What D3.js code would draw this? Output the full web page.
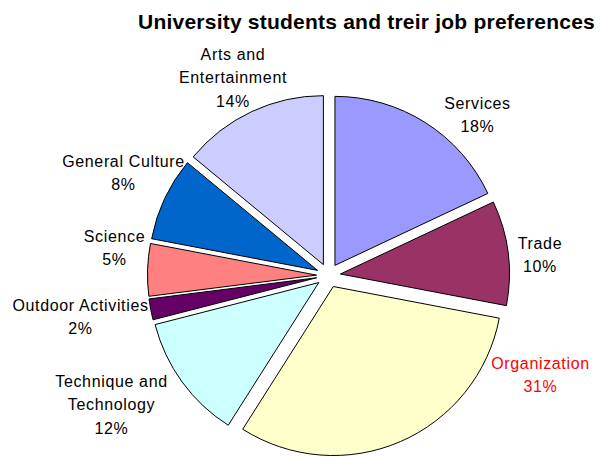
<!DOCTYPE html>
<html>
<head>
<meta charset="utf-8">
<script src="https://cdn.jsdelivr.net/npm/d3@7"></script>
<style>
  html, body { margin: 0; padding: 0; background: #fff; }
  svg { display: block; font-family: "Liberation Sans", Arial, sans-serif; }
</style>
</head>
<body>
<svg id="chart" width="601" height="457"></svg>
<script>
// Job preferences of university students, in percent
const categories = ["Services", "Trade", "Organization", "Technique and Technology",
                    "Outdoor Activities", "Science", "General Culture", "Arts and Entertainment"];
const shares = [18, 10, 31, 12, 2, 5, 8, 14];
const sliceColors = ["#9999FF", "#993366", "#FFFFCC", "#CCFFFF",
                     "#660066", "#FF8080", "#0066CC", "#CCCCFF"];
const labelColors = ["#000", "#000", "#FF0000", "#000", "#000", "#000", "#000", "#000"];

// Label anchors (centre x, first baseline) relative to the pie centre
const labelOffsets = [
  [149, -167], [211.5, -26.5], [212, 93.5], [-217, 111.5],
  [-248, 35.5], [-214, -33.5], [-205, -108.5], [-95.5, -215.5]
];

const width = 601, height = 457;
const cx = 328.5, cy = 275.5;
const radius = 169;
const explode = 12;
const lineHeight = 23.3;

const svg = d3.select("#chart");

svg.append("text")
  .attr("x", 366.5)
  .attr("y", 29)
  .attr("text-anchor", "middle")
  .style("font-weight", "bold")
  .style("font-size", "21px")
  .style("letter-spacing", "0.22px")
  .attr("fill", "#000")
  .text("University students and treir job preferences");

const data = categories.map((name, i) => ({ name, value: shares[i], i }));

const pie = d3.pie().sort(null).value(d => d.value).startAngle(0).endAngle(2 * Math.PI);
const arc = d3.arc().innerRadius(0).outerRadius(radius);

const g = svg.append("g").attr("transform", `translate(${cx},${cy})`);

g.selectAll("path.slice")
  .data(pie(data))
  .join("path")
  .attr("class", "slice")
  .attr("d", arc)
  .attr("transform", d => {
    const a = (d.startAngle + d.endAngle) / 2;
    return `translate(${explode * Math.sin(a)},${-explode * Math.cos(a)})`;
  })
  .attr("fill", d => sliceColors[d.data.i])
  .attr("stroke", "#000")
  .attr("stroke-width", 1)
  .attr("stroke-linejoin", "round");

// Category label split after "and", then the percentage line
function labelLines(d) {
  const m = d.name.match(/^(.* and) (.*)$/);
  const lines = m ? [m[1], m[2]] : [d.name];
  lines.push(d.value + "%");
  return lines;
}

const labels = g.selectAll("text.label")
  .data(data)
  .join("text")
  .attr("class", "label")
  .attr("text-anchor", "middle")
  .style("font-size", "16px")
  .style("letter-spacing", "0.65px")
  .attr("fill", d => labelColors[d.i]);

labels.each(function (d) {
  const [ox, oy] = labelOffsets[d.i];
  d3.select(this).selectAll("tspan")
    .data(labelLines(d))
    .join("tspan")
    .attr("x", ox)
    .attr("y", (t, k) => oy + k * lineHeight)
    .text(t => t);
});
</script>
</body>
</html>
